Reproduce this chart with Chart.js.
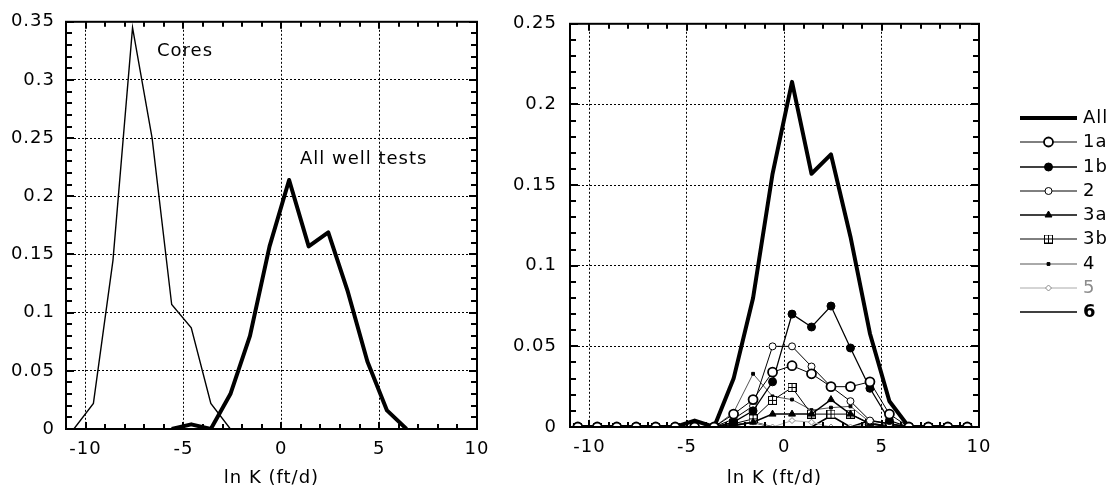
<!DOCTYPE html>
<html>
<head>
<meta charset="utf-8">
<script src="https://cdn.jsdelivr.net/npm/chart.js@4.4.0/dist/chart.umd.min.js"></script>
<style>
  html, body { margin: 0; padding: 0; background: #fff; }
  #wrap { position: relative; width: 1115px; height: 499px; overflow: hidden; }
  canvas { position: absolute; top: 0; }
</style>
</head>
<body>
<div id="wrap">
  <canvas id="left" width="505" height="499" style="left:0"></canvas>
  <canvas id="right" width="610" height="499" style="left:505px"></canvas>
</div>
<script>
// bin centres of ln K (ft/d), same for both panels
const lnK = [-10.6, -9.6, -8.6, -7.6, -6.6, -5.6, -4.6, -3.6, -2.6, -1.6, -0.6,
             0.4, 1.4, 2.4, 3.4, 4.4, 5.4, 6.4, 7.4, 8.4, 9.4];

// left panel
const coresX = [-10.6, -9.6, -8.6, -7.6, -6.6, -5.6, -4.6, -3.6, -2.6];
const cores  = [0, 0.022, 0.145, 0.345, 0.25, 0.107, 0.087, 0.022, 0];
const wellX  = [-5.6, -4.6, -3.6, -2.6, -1.6, -0.6, 0.4, 1.4, 2.4, 3.4, 4.4, 5.4, 6.4];
const wells  = [0, 0.004, 0, 0.03, 0.08, 0.157, 0.214, 0.157, 0.169, 0.118, 0.058, 0.016, 0];

// right panel, one value per lnK bin
const all   = [0,0,0,0,0,0,0.004,0,0.03,0.08,0.157,0.214,0.157,0.169,0.118,0.058,0.016,0,0,0,0];
const s1a   = [0,0,0,0,0,0,0,0,0.008,0.017,0.034,0.038,0.033,0.025,0.025,0.028,0.008,0,0,0,0];
const s1b   = [0,0,0,0,0,0,0,0,0.003,0.010,0.028,0.070,0.062,0.075,0.049,0.024,0.004,0,0,0,0];
const s2    = [0,0,0,0,0,0,0,0,0.005,0.013,0.050,0.050,0.0375,0.025,0.016,0.004,0.002,0,0,0,0];
const s3a   = [0,0,0,0,0,0,0,0,0.001,0.003,0.008,0.008,0.008,0.017,0.008,0.002,0,0,0,0,0];
const s3b   = [0,0,0,0,0,0,0,0,0.002,0.005,0.0165,0.0245,0.008,0.008,0.008,0.002,0.001,0,0,0,0];
const s4    = [0,0,0,0,0,0,0,0,0.009,0.033,0.019,0.017,0.0105,0.012,0.0128,0.003,0,0,0,0,0];
const s5    = [0,0,0,0,0,0,0,0,0.001,0.003,0,0.004,0.003,0,0,0.002,0,0,0,0,0];
const s6    = [0,0,0,0,0,0,0.004,0,0.001,0.003,0,0,0,0.007,0,0.004,0.002,0,0,0,0];

const legendLabels = ['All', '1a', '1b', '2', '3a', '3b', '4', '5', '6'];

const xTicks = [-10, -5, 0, 5, 10];
const xTickLabels = ['-10', '-5', '0', '5', '10'];
const yTicksLeft = [0, 0.05, 0.1, 0.15, 0.2, 0.25, 0.3, 0.35];
const yLabelsLeft = ['0', '0.05', '0.1', '0.15', '0.2', '0.25', '0.3', '0.35'];
const yTicksRight = [0, 0.05, 0.1, 0.15, 0.2, 0.25];
const yLabelsRight = ['0', '0.05', '0.1', '0.15', '0.2', '0.25'];

const FONT = "'DejaVu Sans', sans-serif";
Chart.defaults.font.family = FONT;
Chart.defaults.font.size = 18;
Chart.defaults.color = '#000';

const pts = (xs, ys) => xs.map((x, i) => ({x, y: ys[i]}));

function boxPlus(size) {
  const c = document.createElement('canvas');
  c.width = c.height = size;
  const g = c.getContext('2d');
  g.fillStyle = '#fff';
  g.fillRect(0, 0, size, size);
  g.strokeStyle = '#000';
  g.lineWidth = 1;
  g.strokeRect(0.5, 0.5, size - 1, size - 1);
  g.beginPath();
  g.moveTo(size / 2, 0); g.lineTo(size / 2, size);
  g.moveTo(0, size / 2); g.lineTo(size, size / 2);
  g.stroke();
  return c;
}

// inward minor ticks + heavy frame round the plot
const frame = {
  id: 'plotFrame',
  beforeDraw(chart) { chart.ctx.letterSpacing = '1px'; },
  afterDraw(chart) {
    const ctx = chart.ctx;
    const a = chart.chartArea;
    const x = chart.scales.x, y = chart.scales.y;
    ctx.save();
    ctx.setLineDash([]);
    ctx.strokeStyle = '#000';
    ctx.lineWidth = 2;
    ctx.beginPath();
    for (let v = -11; v <= 10; v++) {
      const px = Math.round(x.getPixelForValue(v));
      const len = v % 5 === 0 ? 7 : 5;
      ctx.moveTo(px, a.bottom); ctx.lineTo(px, a.bottom - len);
      ctx.moveTo(px, a.top); ctx.lineTo(px, a.top + len);
    }
    const n = Math.round(y.max / 0.01);
    for (let k = 0; k <= n; k++) {
      const py = Math.round(y.getPixelForValue(k * 0.01));
      const len = k % 5 === 0 ? 8 : 6;
      ctx.moveTo(a.left, py); ctx.lineTo(a.left + len, py);
      ctx.moveTo(a.right, py); ctx.lineTo(a.right - len, py);
    }
    ctx.stroke();
    ctx.strokeRect(a.left, a.top, a.right - a.left, a.bottom - a.top);
    ctx.restore();
  }
};

// text labels of the left panel, placed in data units
const notes = [
  {text: 'Cores', x: -6.35, y: 0.325},
  {text: 'All well tests', x: 0.95, y: 0.232},
];
const notesPlugin = {
  id: 'notes',
  afterDraw(chart) {
    const {ctx, scales: {x, y}} = chart;
    ctx.save();
    ctx.font = '18px ' + FONT;
    ctx.letterSpacing = '1px';
    ctx.fillStyle = '#000';
    ctx.textBaseline = 'middle';
    notes.forEach(n => ctx.fillText(n.text, x.getPixelForValue(n.x), y.getPixelForValue(n.y)));
    ctx.restore();
  }
};

const LEG_X0 = 515, LEG_X1 = 572, LEG_TOP = 118, LEG_STEP = 24.25;
const legendColors = ['#000', '#000', '#000', '#000', '#000', '#000', '#000', '#8c8c8c', '#000'];
const sideLegend = {
  id: 'sideLegend',
  afterDraw(chart) {
    const ctx = chart.ctx;
    chart.data.datasets.forEach((ds, i) => {
      const y = Math.round(LEG_TOP + i * LEG_STEP);
      ctx.save();
      ctx.strokeStyle = ds.borderColor;
      ctx.lineWidth = ds.borderWidth;
      ctx.beginPath();
      ctx.moveTo(LEG_X0, y); ctx.lineTo(LEG_X1, y);
      ctx.stroke();
      if (ds.pointRadius > 0) {
        ctx.fillStyle = ds.pointBackgroundColor;
        ctx.strokeStyle = ds.pointBorderColor;
        ctx.lineWidth = ds.pointBorderWidth;
        Chart.helpers.drawPoint(ctx, {pointStyle: ds.pointStyle, radius: ds.pointRadius,
          borderWidth: ds.pointBorderWidth, rotation: 0}, (LEG_X0 + LEG_X1) / 2, y);
      }
      ctx.fillStyle = legendColors[i];
      ctx.font = (ds.label === '6' ? 'bold ' : '') + '18px ' + FONT;
      ctx.letterSpacing = '1px';
      ctx.textBaseline = 'middle';
      ctx.fillText(ds.label, LEG_X1 + 6, y);
      ctx.restore();
    });
  }
};

function scales(yTicks, yLabels, yMax, yWidth, yPad, xHeight) {
  return {
    x: {
      type: 'linear', min: -11, max: 10,
      afterBuildTicks: s => { s.ticks = xTicks.map(v => ({value: v})); },
      afterFit: s => { s.height = xHeight; },
      ticks: {padding: 10, callback: (v, i) => xTickLabels[i]},
      grid: {color: '#000', lineWidth: 1, drawTicks: false},
      border: {display: false, dash: [2, 2]},
      title: {display: true, text: 'ln K (ft/d)', padding: {top: 0, bottom: 10}},
    },
    y: {
      type: 'linear', min: 0, max: yMax,
      afterBuildTicks: s => { s.ticks = yTicks.map(v => ({value: v})); },
      afterFit: s => { s.width = yWidth; },
      ticks: {padding: yPad, callback: (v, i) => yLabels[i]},
      grid: {color: '#000', lineWidth: 1, drawTicks: false},
      border: {display: false, dash: [2, 2]},
    },
  };
}

const common = {
  responsive: false,
  animation: false,
  plugins: {legend: {display: false}, tooltip: {enabled: false}},
  elements: {line: {tension: 0}},
};

new Chart(document.getElementById('left'), {
  type: 'line',
  data: {
    datasets: [
      {label: 'All well tests', data: pts(wellX, wells), borderColor: '#000', borderWidth: 4,
       pointRadius: 0, borderJoinStyle: 'round'},
      {label: 'Cores', data: pts(coresX, cores), borderColor: '#000', borderWidth: 1.4,
       pointRadius: 0},
    ]
  },
  options: Object.assign({}, common, {
    layout: {padding: {left: 0, top: 17, right: 28, bottom: 0}},
    scales: scales(yTicksLeft, yLabelsLeft, 0.35, 66, 11, 70),
  }),
  plugins: [frame, notesPlugin],
});

const marker = (style, r, fill, bw) => ({
  pointStyle: style, pointRadius: r, pointBackgroundColor: fill,
  pointBorderColor: '#000', pointBorderWidth: bw,
});

new Chart(document.getElementById('right'), {
  type: 'line',
  data: {
    datasets: [
      {label: legendLabels[0], data: pts(lnK, all), borderColor: '#000', borderWidth: 4,
       pointRadius: 0, order: 10, borderJoinStyle: 'round'},
      Object.assign({label: legendLabels[1], data: pts(lnK, s1a), borderColor: '#000', borderWidth: 1},
        marker('circle', 4.5, '#fff', 1.8)),
      Object.assign({label: legendLabels[2], data: pts(lnK, s1b), borderColor: '#000', borderWidth: 1.3},
        marker('circle', 4, '#000', 1)),
      Object.assign({label: legendLabels[3], data: pts(lnK, s2), borderColor: '#000', borderWidth: 1},
        marker('circle', 3.5, '#fff', 1)),
      Object.assign({label: legendLabels[4], data: pts(lnK, s3a), borderColor: '#000', borderWidth: 1.5},
        marker('triangle', 4, '#000', 1)),
      Object.assign({label: legendLabels[5], data: pts(lnK, s3b), borderColor: '#000', borderWidth: 1},
        marker(boxPlus(9), 4, '#fff', 1)),
      Object.assign({label: legendLabels[6], data: pts(lnK, s4), borderColor: '#555', borderWidth: 1},
        marker('rect', 2, '#000', 1)),
      Object.assign({label: legendLabels[7], data: pts(lnK, s5), borderColor: '#aaa', borderWidth: 1},
        Object.assign(marker('rectRot', 3, '#fff', 1), {pointBorderColor: '#888'})),
      {label: legendLabels[8], data: pts(lnK, s6), borderColor: '#000', borderWidth: 1.6,
       pointRadius: 0},
    ]
  },
  options: Object.assign({}, common, {
    layout: {padding: {left: 0, top: 15, right: 136, bottom: 0}},
    scales: scales(yTicksRight, yLabelsRight, 0.25, 65, 13, 72),
  }),
  plugins: [frame, sideLegend],
});
</script>
</body>
</html>
